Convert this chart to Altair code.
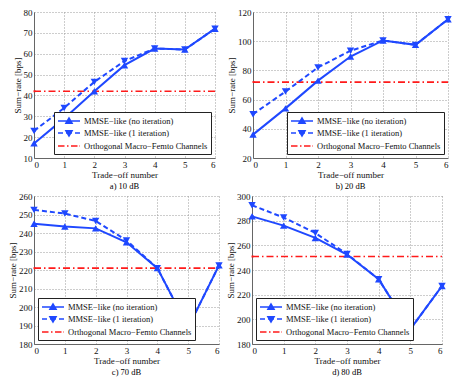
import altair as alt
import pandas as pd

FONT = "Liberation Serif"
BLUE = "#1f48ff"
RED = "#ff1a1a"

x_vals = [0, 1, 2, 3, 4, 5, 6]
labels = ["MMSE−like (no iteration)", "MMSE−like (1 iteration)", "Orthogonal Macro−Femto Channels"]

# a) 10 dB
a_no = [17, 29, 42, 54.5, 62.5, 62, 72]
a_one = [23, 34, 46.5, 56.5, 62.5, 62, 72]
a_orth = 42
a_ticks = [10, 20, 30, 40, 50, 60, 70, 80]

# b) 20 dB
b_no = [36, 54, 73, 89.5, 100.5, 97.5, 115]
b_one = [50, 65.5, 82, 93.5, 100.5, 97.5, 115]
b_orth = 72
b_ticks = [20, 40, 60, 80, 100, 120]

# c) 70 dB
c_no = [245, 243.5, 242.5, 235, 221, 189, 222.5]
c_one = [252.5, 250.5, 246.5, 236, 221, 189, 222.5]
c_orth = 221
c_ticks = [180, 190, 200, 210, 220, 230, 240, 250, 260]

# d) 80 dB
d_no = [283.5, 276, 266, 252.5, 232.5, 192, 227]
d_one = [292.5, 282.5, 270, 253, 232.5, 192, 227]
d_orth = 251
d_ticks = [180, 200, 220, 240, 260, 280, 300]

# legend glyphs (unit = 5px): line from -1 to 3.4, marker centred at 1.2
LEG_PATHS = [
    "M-1,0L3.4,0M0.6,0.45L1.2,-0.6L1.8,0.45Z",
    "M-1,0L0,0M0.6,0L1.8,0M2.4,0L3.4,0M0.6,-0.45L1.2,0.6L1.8,-0.45Z",
    "M-1,0L0.3,0M0.8,0L1.1,0M1.6,0L2.9,0M3.3,0L3.4,0",
]


def panel(no_it, one_it, orth, yticks, caption, orient, w, h):
    rows = []
    for xi, v in zip(x_vals, one_it):
        rows.append({"x": xi, "y": v, "series": labels[1]})
    for xi, v in zip(x_vals, no_it):
        rows.append({"x": xi, "y": v, "series": labels[0]})
    for xi in x_vals:
        rows.append({"x": xi, "y": orth, "series": labels[2]})
    df = pd.DataFrame(rows)

    X = alt.X("x:Q", scale=alt.Scale(domain=[0, 6], nice=False),
              axis=alt.Axis(values=x_vals, format="d", title="Trade−off number"))
    Y = alt.Y("y:Q", scale=alt.Scale(domain=[yticks[0], yticks[-1]], nice=False, zero=False),
              axis=alt.Axis(values=yticks, title="Sum−rate [bps]"))
    base = alt.Chart(df)

    def sel(i):
        return base.transform_filter(alt.datum.series == labels[i])

    line_orth = sel(2).mark_line(color=RED, strokeWidth=1.6, strokeDash=[7, 3, 1.5, 3]).encode(x=X, y=Y)
    line_one = sel(1).mark_line(color=BLUE, strokeWidth=2, strokeDash=[5, 3]).encode(x=X, y=Y)
    line_no = sel(0).mark_line(color=BLUE, strokeWidth=2).encode(x=X, y=Y)
    up = sel(0).mark_point(shape="triangle-up", filled=True, size=55, color=BLUE, opacity=1).encode(x=X, y=Y)
    down = sel(1).mark_point(shape="triangle-down", filled=True, size=55, color=BLUE, opacity=1).encode(x=X, y=Y)

    leg = alt.Legend(orient=orient, offset=4, title=None, strokeColor="#222", fillColor="white",
                     padding=3, labelFont=FONT, labelFontSize=8.5, symbolSize=100,
                     symbolStrokeWidth=1.6, symbolOpacity=1, rowPadding=0, labelOffset=15,
                     cornerRadius=0, labelLimit=300)
    legend_layer = base.transform_filter(alt.datum.x == 0).mark_point(filled=True, size=1, opacity=1).encode(
        x=X, y=Y,
        shape=alt.Shape("series:N", scale=alt.Scale(domain=labels, range=LEG_PATHS), legend=leg),
        fill=alt.Fill("series:N", scale=alt.Scale(domain=labels, range=[BLUE, BLUE, RED]), legend=leg),
        stroke=alt.Stroke("series:N", scale=alt.Scale(domain=labels, range=[BLUE, BLUE, RED]), legend=leg),
    )
    return alt.layer(line_orth, line_one, line_no, down, up, legend_layer).properties(
        width=w, height=h,
        title=alt.TitleParams(caption, orient="bottom", fontSize=8.5, font=FONT,
                              fontWeight="normal", offset=3),
    )


pa = panel(a_no, a_one, a_orth, a_ticks, "a) 10 dB", "bottom-right", 181, 146)
pb = panel(b_no, b_one, b_orth, b_ticks, "b) 20 dB", "bottom-right", 195, 146)
pc = panel(c_no, c_one, c_orth, c_ticks, "c) 70 dB", "bottom-left", 185, 148)
pd_ = panel(d_no, d_one, d_orth, d_ticks, "d) 80 dB", "bottom-left", 190, 148)

ind_s = dict(x="independent", y="independent", shape="independent",
             fill="independent", stroke="independent")
ind_l = dict(shape="independent", fill="independent", stroke="independent")

row1 = alt.hconcat(pa, pb, spacing=8).resolve_scale(**ind_s).resolve_legend(**ind_l)
row2 = alt.hconcat(pc, pd_, spacing=3).resolve_scale(**ind_s).resolve_legend(**ind_l)

chart = alt.vconcat(row1, row2, spacing=1).resolve_scale(**ind_s).resolve_legend(**ind_l).properties(
    padding={"left": 0, "top": 0, "right": 0, "bottom": 0}
).configure_axis(
    labelFont=FONT, labelFontSize=9, titleFont=FONT, titleFontSize=9, titleFontWeight="normal",
    labelColor="#111", titleColor="#111", gridDash=[1, 2], gridColor="#9a9a9a", gridOpacity=1,
    domainColor="#666", ticks=False, labelPadding=2, titlePadding=1,
).configure_legend(
    labelFont=FONT, labelFontSize=8.5, labelColor="#111", symbolOpacity=1,
).configure_view(stroke=None).configure_title(font=FONT)

chart.save("out.html", embed_options={"renderer": "svg", "actions": False})
